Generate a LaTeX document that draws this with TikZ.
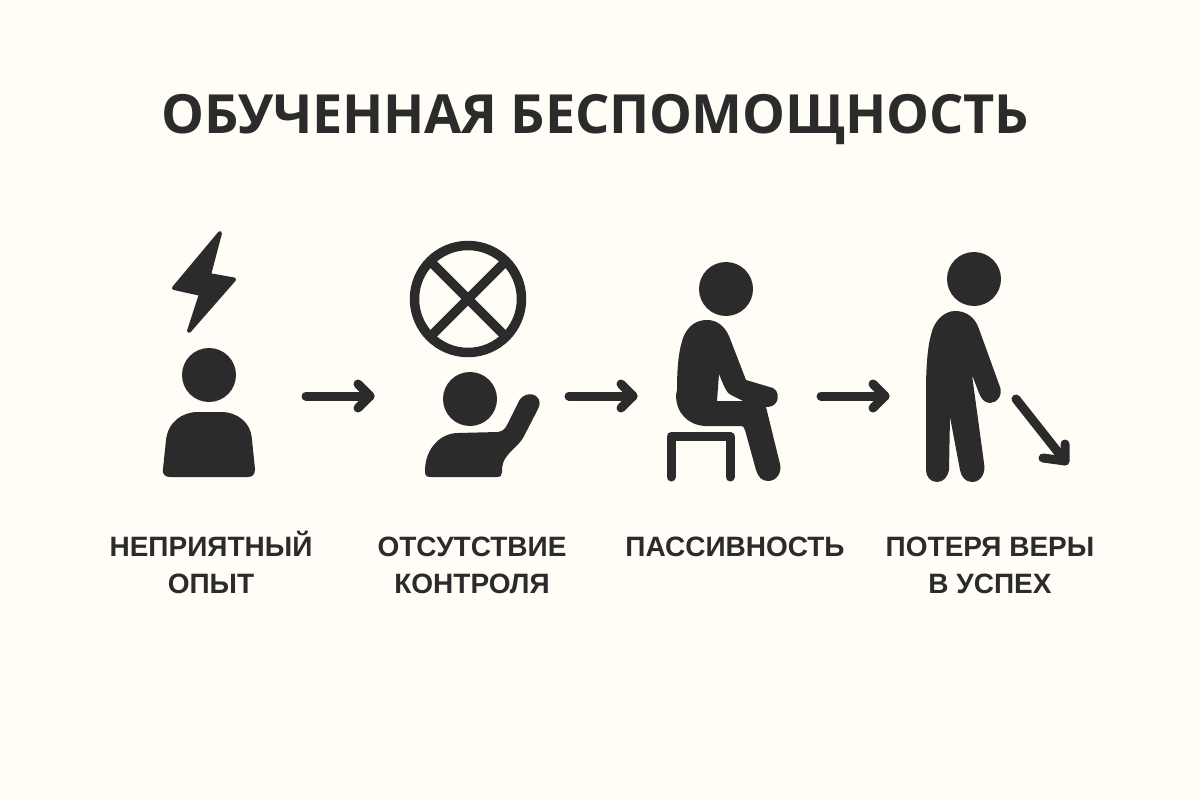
\documentclass[tikz,border=0pt]{standalone}
\usepackage{fontspec}
\setmainfont{Open Sans}
\newfontfamily\ttlfont[LetterSpace=-0.5]{Open Sans}
\newfontfamily\lblfont{Liberation Sans}
\definecolor{ink}{HTML}{2B2B2B}
\definecolor{paper}{HTML}{FFFDF6}
\tikzset{
  flow/.style={draw=ink,line width=9pt,line cap=round,line join=round},
  thick ring/.style={draw=ink,line width=9.5pt},
  stool/.style={draw=ink,line width=9pt,line cap=round,line join=round},
  bolt/.style={fill=ink,draw=ink,line width=4pt,line join=round},
  title text/.style={text=ink,font=\ttlfont\bfseries\fontsize{54}{54}\selectfont,anchor=base,inner sep=0pt},
  label text/.style={text=ink,font=\lblfont\bfseries\fontsize{28}{37}\selectfont,anchor=base,align=center,inner sep=0pt},
}
\begin{document}
\begin{tikzpicture}[x=1pt,y=-1pt]
\useasboundingbox (0,0) rectangle (1200,800);
\fill[paper] (0,0) rectangle (1200,800);
\node[title text] (title) at (595,133.5) {ОБУЧЕННАЯ БЕСПОМОЩНОСТЬ};
% step 1
\path[bolt] (220,233) -- (209,275) -- (234,279.5) -- (189,331) -- (201,294) -- (174,288) -- cycle;
\fill[ink] (209,375) circle (27);
\fill[ink] (170,477) .. controls (165,477) and (162,474) .. (163,469) -- (166,440)
  .. controls (168,422) and (182,412) .. (198,412) -- (221,412)
  .. controls (237,412) and (251,422) .. (252,440) -- (255,469)
  .. controls (255,474) and (253,477) .. (248,477) -- cycle;
% step 2
\draw[thick ring] (468,299) circle (53.5);
\draw[thick ring] (468,299) ++(-38,-38) -- (506,337);
\draw[thick ring] (468,299) ++(38,-38) -- (430,337);
\fill[ink] (470,399) circle (27);
\fill[ink] (430,477) .. controls (426,477) and (425,475) .. (425,471)
  .. controls (425,448) and (441,433) .. (458,433) -- (498,432)
  .. controls (503,431) and (505,429) .. (507,425) -- (518,403)
  .. controls (521,395) and (530,392) .. (536,396)
  .. controls (541,400) and (540,405) .. (538,409) -- (523,438)
  .. controls (518,446) and (511,450) .. (507,456)
  .. controls (503,461) and (502,465) .. (502,472)
  .. controls (502,475) and (501,477) .. (497,477) -- cycle;
% step 3
\fill[ink] (726,289) circle (27);
\fill[ink,even odd rule] (677,390)
  .. controls (677,365) and (679,350) .. (683,338)
  .. controls (688,325) and (697,320) .. (707,320)
  .. controls (716,320) and (724,325) .. (729,336)
  -- (746,380) -- (773,388)
  .. controls (779,391) and (778,398) .. (777,401)
  .. controls (775,406) and (770,407) .. (766,407)
  -- (780,464)
  .. controls (782,472) and (777,481) .. (768,481)
  .. controls (762,481) and (758,477) .. (756,470)
  -- (745,430) .. controls (744,427) and (743,426) .. (741,426)
  -- (705,426)
  .. controls (688,425) and (676,413) .. (676,395) -- cycle
  (719,374) -- (717,401) -- (743,401) -- (733,396) .. controls (727,394) and (725,389) .. (719,374) -- cycle;
\draw[stool] (671,477) -- (671,436) -- (730,436) -- (730,477);
% step 4
\fill[ink] (974,279) circle (27);
\fill[ink] (955,311)
  .. controls (966,311) and (975,317) .. (979,329)
  -- (1000,387)
  .. controls (1003,395) and (997,403) .. (990,403)
  .. controls (984,403) and (981,398) .. (979,393)
  -- (972,375)
  -- (984,463)
  .. controls (986,473) and (981,482) .. (972,482)
  .. controls (965,482) and (961,476) .. (960,470)
  -- (950,417)
  -- (949,470)
  .. controls (948,476) and (944,482) .. (937,482)
  .. controls (930,482) and (926,476) .. (926,470)
  -- (926,390)
  .. controls (926,365) and (928,345) .. (931,335)
  .. controls (934,320) and (945,311) .. (955,311) -- cycle;
% flow arrows
\coordinate (a1s) at (306,396); \coordinate (a1e) at (370,396);
\coordinate (a1u) at (358,384); \coordinate (a1d) at (358,408);
\draw[flow] (a1s) -- (a1e); \draw[flow] (a1u) -- (a1e) -- (a1d);
\coordinate (a2s) at (569,396); \coordinate (a2e) at (633,396);
\coordinate (a2u) at (621,384); \coordinate (a2d) at (621,408);
\draw[flow] (a2s) -- (a2e); \draw[flow] (a2u) -- (a2e) -- (a2d);
\coordinate (a3s) at (821,396); \coordinate (a3e) at (885,396);
\coordinate (a3u) at (873,384); \coordinate (a3d) at (873,408);
\draw[flow] (a3s) -- (a3e); \draw[flow] (a3u) -- (a3e) -- (a3d);
\coordinate (a4s) at (1016,399); \coordinate (a4e) at (1065,461);
\coordinate (a4u) at (1065,444); \coordinate (a4d) at (1043,458);
\draw[flow] (a4s) -- (a4e); \draw[flow] (a4u) -- (a4e) -- (a4d);
% labels
\node[label text] (l1) at (211,593) {НЕПРИЯТНЫЙ\\ОПЫТ};
\node[label text] (l2) at (472,593) {ОТСУТСТВИЕ\\КОНТРОЛЯ};
\node[label text] (l3) at (735,556) {ПАССИВНОСТЬ};
\node[label text] (l4) at (990,593) {ПОТЕРЯ ВЕРЫ\\В УСПЕХ};
\end{tikzpicture}
\end{document}
